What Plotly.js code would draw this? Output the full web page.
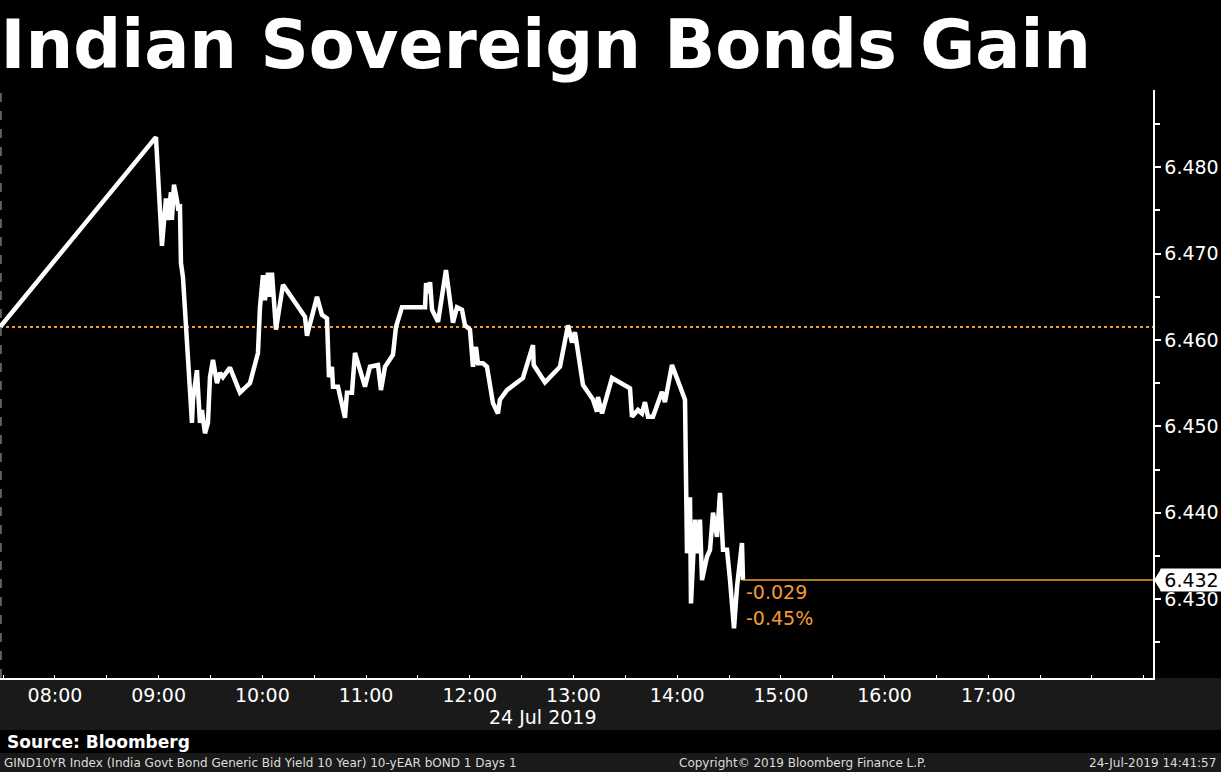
<!DOCTYPE html>
<html>
<head>
<meta charset="utf-8">
<script src="https://cdn.plot.ly/plotly-3.0.1.min.js"></script>
<style>
  html, body { margin: 0; padding: 0; background: #000; }
  #chart { width: 1221px; height: 772px; }
</style>
</head>
<body>
<div id="chart"></div>
<script>
// ---- data ----
const chartDate = "2019-07-24";
const times = [
  "07:28:12","08:58:26","09:01:54","09:04:13","09:05:23","09:07:07","09:07:41","09:08:51","09:10:35","09:11:10",
  "09:12:19","09:12:54","09:14:03","09:16:22","09:19:16","09:19:50","09:22:09","09:23:53","09:25:03","09:26:47",
  "09:28:31","09:29:41","09:31:25","09:33:44","09:35:28","09:37:12","09:41:15","09:47:02","09:51:05","09:52:50",
  "09:57:27","09:58:37","10:00:21","10:01:30","10:03:14","10:04:24","10:05:33","10:07:52","10:11:55","10:24:39",
  "10:25:49","10:31:36","10:34:29","10:37:23","10:38:32","10:40:16","10:40:51","10:43:44","10:47:47","10:48:57",
  "10:51:50","10:53:35","10:59:22","11:02:15","11:06:53","11:08:37","11:10:56","11:15:34","11:17:18","11:20:46",
  "11:34:08","11:34:43","11:35:52","11:37:02","11:38:11","11:41:39","11:46:13","11:50:17","11:52:36","11:55:29",
  "11:57:14","12:00:07","12:01:51","12:03:35","12:04:45","12:07:38","12:09:57","12:13:25","12:16:19","12:17:28",
  "12:21:31","12:30:46","12:36:34","12:37:00","12:43:31","12:52:12","12:56:50","12:59:09","13:00:53","13:05:30",
  "13:11:17","13:13:36","13:14:11","13:16:30","13:22:17","13:32:42","13:33:51","13:37:19","13:39:38","13:41:22",
  "13:43:07","13:46:00","13:51:12","13:52:56","13:57:00","13:59:54","14:04:32","14:05:41","14:07:25","14:08:00",
  "14:10:19","14:12:03","14:13:12","14:14:22","14:17:15","14:19:00","14:20:44","14:23:02","14:24:47","14:26:31",
  "14:28:50","14:30:34","14:32:53","14:34:37","14:37:30","14:38:05"
];
const yields = [
  6.4615,6.4835,6.4709,6.4764,6.4739,6.4771,6.4739,6.4780,6.4762,6.4753,
  6.4754,6.4689,6.4673,6.4603,6.4504,6.4531,6.4565,6.4504,6.4519,6.4492,
  6.4504,6.4557,6.4577,6.4550,6.4562,6.4557,6.4568,6.4539,6.4548,6.4550,
  6.4585,6.4638,6.4675,6.4646,6.4678,6.4650,6.4678,6.4612,6.4664,6.4627,
  6.4605,6.4650,6.4629,6.4625,6.4557,6.4569,6.4546,6.4546,6.4510,6.4539,
  6.4539,6.4585,6.4546,6.4569,6.4571,6.4542,6.4569,6.4583,6.4615,6.4638,
  6.4638,6.4666,6.4654,6.4667,6.4635,6.4621,6.4681,6.4620,6.4638,6.4635,
  6.4617,6.4612,6.4569,6.4592,6.4573,6.4573,6.4569,6.4527,6.4515,6.4531,
  6.4542,6.4556,6.4594,6.4571,6.4551,6.4569,6.4617,6.4597,6.4609,6.4548,
  6.4531,6.4517,6.4534,6.4515,6.4556,6.4544,6.4511,6.4519,6.4515,6.4528,
  6.4511,6.4511,6.4540,6.4528,6.4571,6.4556,6.4531,6.4353,6.4418,6.4295,
  6.4392,6.4353,6.4392,6.4322,6.4349,6.4357,6.4400,6.4372,6.4423,6.4357,
  6.4357,6.4322,6.4266,6.4314,6.4365,6.4322
];
const previousClose = 6.4615;
const xTickLabels = ["08:00","09:00","10:00","11:00","12:00","13:00","14:00","15:00","16:00","17:00"];
const yTickValues = [6.430, 6.440, 6.450, 6.460, 6.470, 6.480];
const titleText = "Indian Sovereign Bonds Gain";
const sourceText = "Source: Bloomberg";
const footerLeft = "GIND10YR Index (India Govt Bond Generic Bid Yield 10 Year) 10-yEAR bOND 1 Days 1";
const footerMid = "Copyright\u00A9 2019 Bloomberg Finance L.P.";
const footerRight = "24-Jul-2019 14:41:57";
const dateLabel = "24 Jul 2019";

// ---- derived ----
const xs = times.map(t => chartDate + " " + t);
const xTickVals = xTickLabels.map(t => chartDate + " " + t);
const lastX = xs[xs.length - 1];
const lastY = yields[yields.length - 1];
const change = lastY - previousClose;
const changePct = change / previousClose * 100;
const xRange = [chartDate + " 07:28:12", chartDate + " 18:35:18"];
const yRange = [6.42086, 6.48895];

const ORANGE = "#f39b32";
const FONT = "DejaVu Sans, Verdana, sans-serif";
const BAND = "#1a1a1a";

// plot area: x 0..1153, y 90..678 (588 px tall)
const PH = 588, PW = 1153;
const py = px => (678 - px) / PH;  // pixel y -> paper y
const pxp = px => px / PW;          // pixel x -> paper x

const trace = {
  type: "scatter", mode: "lines",
  x: xs, y: yields,
  line: { color: "#ffffff", width: 4.5, shape: "linear" },
  hoverinfo: "x+y"
};

const layout = {
  width: 1221, height: 772,
  paper_bgcolor: "#000000", plot_bgcolor: "#000000",
  margin: { l: 0, r: 68, t: 90, b: 94, pad: 0 },
  showlegend: false,
  title: {
    text: "<b>" + titleText + "</b>",
    font: { family: FONT, size: 67, color: "#ffffff" },
    x: 0.0005, xref: "container", xanchor: "left",
    y: 1 - 45 / 772, yref: "container", yanchor: "middle"
  },
  xaxis: {
    type: "date", range: xRange,
    tickvals: xTickVals, ticktext: xTickLabels,
    ticks: "", showgrid: false, zeroline: false,
    showline: true, linecolor: "#ffffff", linewidth: 1.5,
    tickfont: { family: FONT, size: 19, color: "#ffffff" },
    minor: { dtick: 1800000, tick0: chartDate + " 07:30", ticks: "inside", ticklen: 3, tickcolor: "#ffffff", showgrid: false },
    fixedrange: true
  },
  yaxis: {
    side: "right", range: yRange,
    tickvals: yTickValues, tickformat: ".3f",
    ticks: "outside", ticklen: 6, tickwidth: 2, tickcolor: "#ffffff",
    showgrid: false, zeroline: false,
    showline: true, linecolor: "#ffffff", linewidth: 1.5, mirror: false,
    tickfont: { family: FONT, size: 19, color: "#ffffff" },
    minor: { dtick: 0.005, ticks: "outside", ticklen: 5, tickcolor: "#ffffff", showgrid: false },
    fixedrange: true
  },
  shapes: [
    // x-axis band
    { type: "rect", xref: "paper", yref: "paper", x0: -0.01, x1: 1.07, y0: py(730), y1: 0,
      fillcolor: BAND, line: { width: 0 }, layer: "below" },
    // bottom footer bar
    { type: "rect", xref: "paper", yref: "paper", x0: -0.01, x1: 1.07, y0: py(773), y1: py(753),
      fillcolor: BAND, line: { width: 0 }, layer: "below" },
    // left dashed border
    { type: "line", xref: "paper", yref: "paper", x0: 0.0008, x1: 0.0008, y0: 0, y1: 1,
      line: { color: "#777777", width: 1.5, dash: "dash" } },
    // previous close dotted line
    { type: "line", xref: "paper", yref: "y", x0: 0, x1: 1, y0: previousClose, y1: previousClose,
      line: { color: ORANGE, width: 2, dash: "dot" }, layer: "below" },
    // last value line
    { type: "line", xref: "x", yref: "y", x0: lastX, x1: xRange[1], y0: lastY, y1: lastY,
      line: { color: ORANGE, width: 1.5 } },
    // last value label notch
    { type: "path", xref: "paper", yref: "y", xsizemode: "pixel", ysizemode: "pixel",
      xanchor: 1, yanchor: lastY, path: "M 1 0 L 8 11 L 8 -11 Z",
      fillcolor: "#ffffff", line: { width: 0 } }
  ],
  annotations: [
    { xref: "paper", yref: "y", x: 1 + 7 / PW, y: lastY, xanchor: "left", yanchor: "middle",
      text: lastY.toFixed(3), showarrow: false, bgcolor: "#ffffff", borderpad: 1,
      width: 59, height: 20, align: "center",
      font: { family: FONT, size: 19, color: "#000000" } },
    { xref: "x", yref: "y", x: lastX, y: lastY, xanchor: "left", yanchor: "middle",
      xshift: 1, yshift: -12, showarrow: false,
      text: change.toFixed(3), font: { family: FONT, size: 19, color: ORANGE } },
    { xref: "x", yref: "y", x: lastX, y: lastY, xanchor: "left", yanchor: "middle",
      xshift: 1, yshift: -38, showarrow: false,
      text: changePct.toFixed(2) + "%", font: { family: FONT, size: 19, color: ORANGE } },
    { xref: "paper", yref: "paper", x: pxp(543), y: py(717), xanchor: "center", yanchor: "middle",
      showarrow: false, text: dateLabel, font: { family: FONT, size: 19, color: "#ffffff" } },
    { xref: "paper", yref: "paper", x: pxp(5), y: py(742), xanchor: "left", yanchor: "middle",
      showarrow: false, text: "<b>" + sourceText + "</b>", font: { family: FONT, size: 17, color: "#ffffff" } },
    { xref: "paper", yref: "paper", x: pxp(2), y: py(763), xanchor: "left", yanchor: "middle",
      showarrow: false, text: footerLeft, font: { family: FONT, size: 12, color: "#dddddd" } },
    { xref: "paper", yref: "paper", x: pxp(802), y: py(763), xanchor: "center", yanchor: "middle",
      showarrow: false, text: footerMid, font: { family: FONT, size: 12, color: "#dddddd" } },
    { xref: "paper", yref: "paper", x: pxp(1218), y: py(763), xanchor: "right", yanchor: "middle",
      showarrow: false, text: footerRight, font: { family: FONT, size: 12, color: "#dddddd" } }
  ]
};

Plotly.newPlot("chart", [trace], layout, { displayModeBar: false, staticPlot: true });
</script>
</body>
</html>
